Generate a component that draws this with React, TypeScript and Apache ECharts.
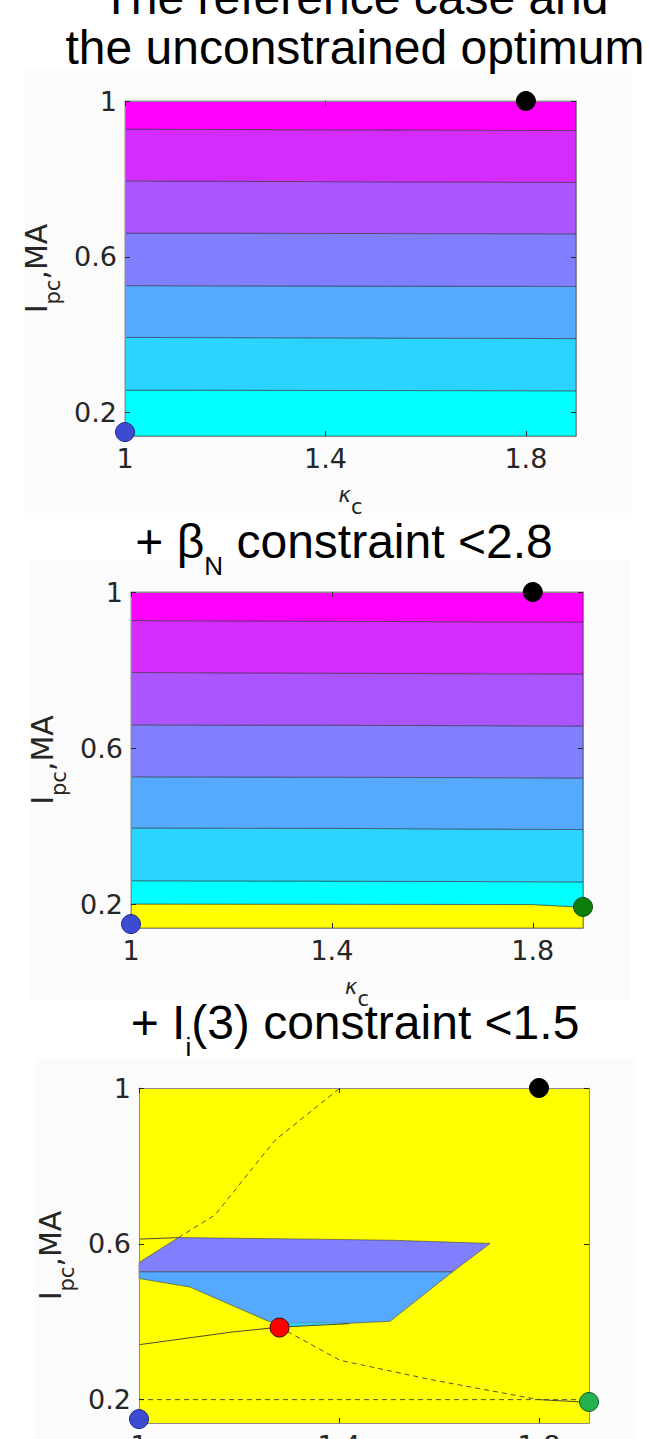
import React, { useEffect, useRef } from "react";
import * as echarts from "echarts";

// ---------- data ----------
const X_TICKS = [1, 1.4, 1.8];
const Y_TICKS = [0.2, 0.6, 1];
const X_MIN = 1;
const X_MAX = 1.9;
const Y_MIN = 0.14;
const Y_MAX = 1;

// MATLAB "cool" colormap, 7 levels (low -> high)
const COOL_COLORS = ["#00ffff", "#2bd4ff", "#55aaff", "#8080ff", "#aa55ff", "#d42bff", "#ff00ff"];
const INFEASIBLE = "#ffff00";

// Panel 1: contour lines (bottom -> top), points [kappa_c, I_pc]
const P1_CONTOURS = [
  [[1, 0.258], [1.4, 0.257], [1.9, 0.256]],
  [[1, 0.393], [1.4, 0.392], [1.9, 0.39]],
  [[1, 0.526], [1.4, 0.525], [1.9, 0.524]],
  [[1, 0.661], [1.4, 0.66], [1.9, 0.659]],
  [[1, 0.795], [1.4, 0.793], [1.9, 0.791]],
  [[1, 0.928], [1.4, 0.926], [1.9, 0.924]],
];

// Panel 2: beta_N limit boundary and contour lines
const P2_BETA_LIMIT = [[1, 0.2015], [1.4, 0.201], [1.8, 0.2], [1.9, 0.193]];
const P2_CONTOURS = [
  [[1, 0.261], [1.4, 0.26], [1.9, 0.258]],
  [[1, 0.396], [1.4, 0.395], [1.9, 0.392]],
  [[1, 0.527], [1.4, 0.526], [1.9, 0.524]],
  [[1, 0.66], [1.4, 0.659], [1.9, 0.657]],
  [[1, 0.794], [1.4, 0.792], [1.9, 0.79]],
  [[1, 0.927], [1.4, 0.925], [1.9, 0.923]],
];

// Panel 3: feasible region polygons
const P3_UPPER_BAND = [[1, 0.552], [1.079, 0.616], [1.349, 0.612], [1.509, 0.609], [1.702, 0.601], [1.627, 0.528], [1, 0.528]];
const P3_LOWER_BAND = [[1, 0.528], [1.627, 0.528], [1.502, 0.401], [1.42, 0.396], [1.29, 0.396], [1.259, 0.401], [1.102, 0.489], [1, 0.511]];
const P3_SLIVER = [[1.28, 0.396], [1.42, 0.396], [1.28, 0.386]];
const P3_SOLID = [
  [[1, 0.612], [1.079, 0.616]],
  [[1, 0.341], [1.189, 0.374], [1.281, 0.386], [1.42, 0.395]],
  [[1.8, 0.2], [1.9, 0.193]],
];
const P3_DASHED = [
  [[1.079, 0.616], [1.152, 0.674], [1.272, 0.866], [1.402, 1.0]],
  [[1.281, 0.386], [1.402, 0.301], [1.589, 0.25], [1.8, 0.2]],
  [[1, 0.2], [1.9, 0.2]],
];

// Marked points
const REFERENCE_CASE = [1.0, 0.15];
const UNCONSTRAINED_OPT = [1.8, 1.0];
const BETA_OPT = [1.9, 0.194];
const LI_OPT = [1.281, 0.385];

// ---------- helpers ----------
type Pt = number[];
const bottomEdge: Pt[] = [[X_MIN, Y_MIN], [X_MAX, Y_MIN]];
const topEdge: Pt[] = [[X_MIN, Y_MAX], [X_MAX, Y_MAX]];

function bandPolys(edges: Pt[][], colors: string[]) {
  const out: { pts: Pt[]; color: string; stroke: boolean }[] = [];
  for (let i = 0; i < edges.length - 1; i++) {
    out.push({ pts: edges[i].concat(edges[i + 1].slice().reverse()), color: colors[i], stroke: true });
  }
  return out;
}

const TICK_FONT = "DejaVu Sans";
const TITLE_FONT = "Liberation Sans";
const DARK = "#262626";
const BOX = "#8c8c8c";

function axesFor(p: number) {
  const base = { gridIndex: p, type: "value", splitLine: { show: false }, z: 5 };
  const tick = { show: true, inside: true, length: 5, lineStyle: { color: DARK, width: 1 } };
  const line = { show: true, onZero: false, lineStyle: { color: BOX, width: 1 } };
  const xb = {
    ...base, min: X_MIN, max: X_MAX, position: "bottom",
    axisLine: line, axisTick: { ...tick, customValues: X_TICKS },
    axisLabel: { customValues: X_TICKS, fontFamily: TICK_FONT, fontSize: 27, color: DARK, margin: 9 },
    name: "{k|κ}{s|c}", nameLocation: "middle", nameGap: 36,
    nameTextStyle: {
      color: DARK,
      rich: {
        k: { fontFamily: TICK_FONT, fontStyle: "italic", fontSize: 21, lineHeight: 21, color: DARK, verticalAlign: "middle" },
        s: { fontFamily: TICK_FONT, fontSize: 21, lineHeight: 21, color: DARK, padding: [24, 0, 0, 0], verticalAlign: "middle" },
      },
    },
  };
  const xt = {
    ...base, min: X_MIN, max: X_MAX, position: "top",
    axisLine: line, axisTick: { ...tick, customValues: X_TICKS }, axisLabel: { show: false },
  };
  const yl = {
    ...base, min: Y_MIN, max: Y_MAX, position: "left",
    axisLine: line, axisTick: { ...tick, customValues: Y_TICKS },
    axisLabel: { customValues: Y_TICKS, fontFamily: TICK_FONT, fontSize: 27, color: DARK, margin: 8 },
    name: "{m|I}{s|pc}{m|,MA}", nameLocation: "middle", nameGap: 53, nameRotate: 90,
    nameTextStyle: {
      color: DARK,
      rich: {
        m: { fontFamily: TICK_FONT, fontSize: 30, lineHeight: 30, color: DARK, verticalAlign: "middle" },
        s: { fontFamily: TICK_FONT, fontSize: 21, lineHeight: 21, color: DARK, padding: [32, 0, 0, 0], verticalAlign: "middle" },
      },
    },
  };
  const yr = {
    ...base, min: Y_MIN, max: Y_MAX, position: "right",
    axisLine: line, axisTick: { ...tick, customValues: Y_TICKS }, axisLabel: { show: false },
  };
  return { x: [xb, xt], y: [yl, yr] };
}

function polySeries(p: number, polys: { pts: Pt[]; color: string; stroke: boolean }[]) {
  return {
    type: "custom",
    xAxisIndex: 2 * p,
    yAxisIndex: 2 * p,
    silent: true,
    z: 2,
    data: polys.map((pl) => pl.pts[0]),
    renderItem: (params: any, api: any) => {
      const pl = polys[params.dataIndex];
      return {
        type: "polygon",
        shape: { points: pl.pts.map((pt) => api.coord(pt)) },
        style: {
          fill: pl.color,
          stroke: pl.stroke ? "rgba(45,45,45,0.65)" : "none",
          lineWidth: 0.8,
        },
      };
    },
  };
}

function lineSeries(p: number, pts: Pt[], dashed: boolean) {
  return {
    type: "line",
    xAxisIndex: 2 * p,
    yAxisIndex: 2 * p,
    data: pts,
    symbol: "none",
    silent: true,
    z: 3,
    lineStyle: { color: dashed ? "#404040" : "#3a3a3a", width: 1, type: dashed ? [5, 4] : "solid", opacity: 0.9 },
  };
}

function dot(p: number, pt: Pt, color: string, border: string) {
  return {
    type: "scatter",
    xAxisIndex: 2 * p,
    yAxisIndex: 2 * p,
    data: [pt],
    symbol: "circle",
    symbolSize: 19,
    clip: false,
    silent: true,
    z: 6,
    itemStyle: { color, borderColor: border, borderWidth: 1, opacity: 1 },
  };
}

function richTitle(text: string, cx: number, cy: number) {
  return {
    type: "text",
    x: cx,
    y: cy,
    z: 10,
    style: {
      text,
      textAlign: "center",
      align: "center",
      textVerticalAlign: "middle",
      verticalAlign: "middle",
      fill: "#000",
      rich: {
        m: { fontFamily: TITLE_FONT, fontSize: 48, lineHeight: 48, fill: "#000", color: "#000", verticalAlign: "middle" },
        s: { fontFamily: TITLE_FONT, fontSize: 26, lineHeight: 26, fill: "#000", color: "#000", padding: [49, 0, 0, 0], verticalAlign: "middle" },
      },
    },
  };
}

export default function App() {
  const ref = useRef<HTMLDivElement>(null);
  useEffect(() => {
    document.body.style.margin = "0";
    if (!ref.current) return;
    const chart = echarts.init(ref.current, undefined, { renderer: "svg" });

    const a0 = axesFor(0);
    const a1 = axesFor(1);
    const a2 = axesFor(2);

    const p1Polys = bandPolys([bottomEdge, ...P1_CONTOURS, topEdge], COOL_COLORS);
    const p2Polys = bandPolys([bottomEdge, P2_BETA_LIMIT, ...P2_CONTOURS, topEdge], [INFEASIBLE, ...COOL_COLORS]);
    const p3Polys = [
      { pts: [bottomEdge[0], bottomEdge[1], topEdge[1], topEdge[0]], color: INFEASIBLE, stroke: false },
      { pts: P3_UPPER_BAND, color: COOL_COLORS[3], stroke: true },
      { pts: P3_LOWER_BAND, color: COOL_COLORS[2], stroke: true },
      { pts: P3_SLIVER, color: COOL_COLORS[1], stroke: false },
    ];

    const option: any = {
      animation: false,
      backgroundColor: "#ffffff",
      grid: [
        { left: 125, top: 101, width: 451, height: 335, outerBoundsMode: "none" },
        { left: 131, top: 592, width: 452, height: 336, outerBoundsMode: "none" },
        { left: 139, top: 1088, width: 450, height: 335, outerBoundsMode: "none" },
      ],
      xAxis: [...a0.x, ...a1.x, ...a2.x],
      yAxis: [...a0.y, ...a1.y, ...a2.y],
      series: [
        polySeries(0, p1Polys),
        dot(0, REFERENCE_CASE, "#3c4bd0", "#1d2a8a"),
        dot(0, UNCONSTRAINED_OPT, "#000000", "#000000"),

        polySeries(1, p2Polys),
        dot(1, REFERENCE_CASE, "#3c4bd0", "#1d2a8a"),
        dot(1, UNCONSTRAINED_OPT, "#000000", "#000000"),
        dot(1, BETA_OPT, "#0b7d0b", "#0a4a0a"),

        polySeries(2, p3Polys),
        ...P3_SOLID.map((l) => lineSeries(2, l, false)),
        ...P3_DASHED.map((l) => lineSeries(2, l, true)),
        dot(2, REFERENCE_CASE, "#3c4bd0", "#1d2a8a"),
        dot(2, UNCONSTRAINED_OPT, "#000000", "#000000"),
        dot(2, BETA_OPT, "#23b14d", "#145a28"),
        dot(2, LI_OPT, "#ff0000", "#4a0000"),
      ],
      graphic: [
        { type: "rect", z: -10, shape: { x: 25, y: 68, width: 607, height: 445 }, style: { fill: "#fbfbfb" } },
        { type: "rect", z: -10, shape: { x: 30, y: 560, width: 600, height: 440 }, style: { fill: "#fbfbfb" } },
        { type: "rect", z: -10, shape: { x: 35, y: 1058, width: 600, height: 381 }, style: { fill: "#fbfbfb" } },
        richTitle("{m|The reference case and}", 355, -3),
        richTitle("{m|the unconstrained optimum}", 355, 47),
        richTitle("{m|+ β}{s|N}{m| constraint <2.8}", 344, 541),
        richTitle("{m|+ I}{s|i}{m|(3) constraint <1.5}", 355, 1022),
      ],
    };
    chart.setOption(option);
    return () => chart.dispose();
  }, []);
  return <div ref={ref} style={{ width: 649, height: 1439 }} />;
}
